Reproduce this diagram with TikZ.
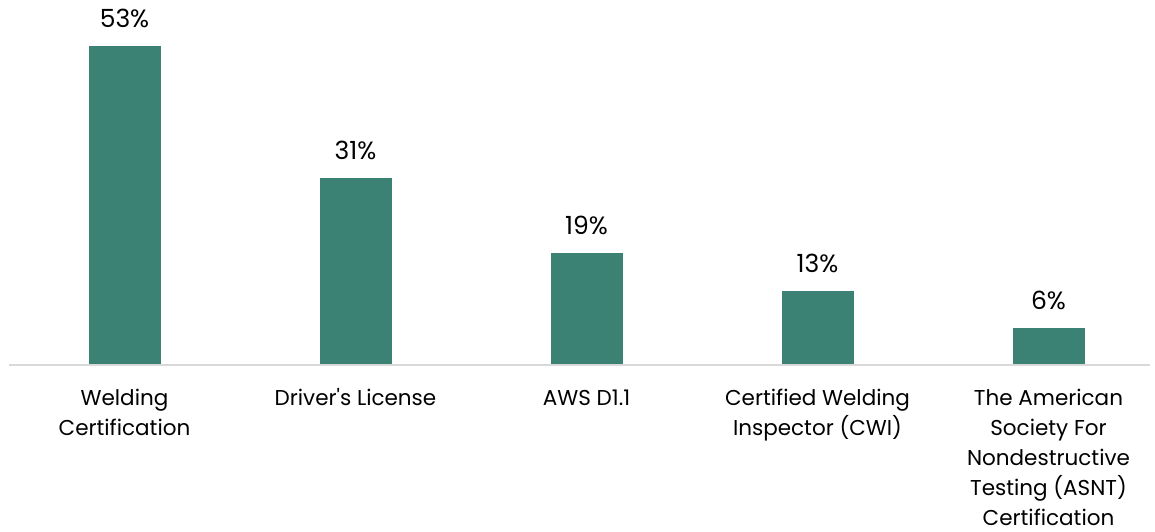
\documentclass[tikz,border=0pt]{standalone}
\usepackage{fontspec}
\setmainfont{Poppins}
\definecolor{barteal}{RGB}{59,129,116}
\definecolor{axisgrey}{RGB}{217,217,217}
\begin{document}
\begin{tikzpicture}[x=1pt,y=-1pt,
  bar/.style={fill=barteal,draw=none},
  vallabel/.style={anchor=base,inner sep=0pt,font=\fontsize{25}{30}\selectfont},
  catlabel/.style={anchor=base,inner sep=0pt,align=center,font=\fontsize{21.5}{30}\selectfont}]
\useasboundingbox (0,0) rectangle (1155,531);
\coordinate (axL) at (9,365);
\coordinate (axR) at (1150,365);
\draw[axisgrey,line width=1.5pt] (axL) -- (axR);
\foreach \i/\top/\val in {1/46/53\%,2/177.5/31\%,3/252.5/19\%,4/290.5/13\%,5/328/6\%}{
  \pgfmathsetmacro{\cx}{124.5+231*(\i-1)}
  \path[bar] (\cx-36,\top) rectangle (\cx+36,364);
  \node[vallabel] (val\i) at (\cx,\top-18.5) {\val};
}
% anchor=base of a multi-line node is the baseline of its last line
\node[catlabel] (cat1) at (124.5,435) {Welding\\Certification};
\node[catlabel] (cat2) at (355.5,405) {Driver\textquotesingle s License};
\node[catlabel] (cat3) at (586.5,405) {AWS D1.1};
\node[catlabel] (cat4) at (817.5,435) {Certified Welding\\Inspector (CWI)};
\node[catlabel] (cat5) at (1048.5,525) {The American\\Society For\\Nondestructive\\Testing (ASNT)\\Certification};
\end{tikzpicture}
\end{document}
